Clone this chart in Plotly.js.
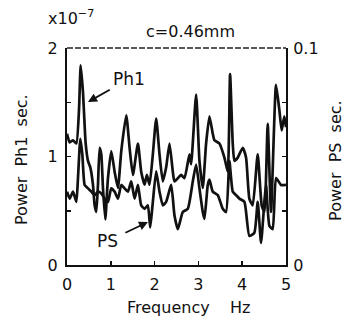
<!DOCTYPE html>
<html><head><meta charset="utf-8">
<script src="https://cdn.plot.ly/plotly-3.0.1.min.js"></script>
<style>html,body{margin:0;padding:0;background:#fff;}#chart{width:348px;height:323px;}</style>
</head><body><div id="chart"></div>
<script>
const ph1Freq = [0.000,0.061,0.137,0.213,0.274,0.312,0.365,0.426,0.479,0.532,0.593,0.631,0.669,0.707,0.745,0.783,0.821,0.874,0.935,1.011,1.087,1.163,1.239,1.353,1.429,1.505,1.619,1.694,1.771,1.824,1.884,1.960,2.036,2.112,2.188,2.264,2.340,2.416,2.454,2.606,2.682,2.796,2.834,2.948,3.024,3.100,3.176,3.252,3.328,3.366,3.480,3.594,3.670,3.723,3.784,3.822,3.898,4.012,4.088,4.164,4.240,4.354,4.445,4.506,4.582,4.658,4.772,4.848,4.901,4.962,5.000];
const ph1Power = [1.21,1.13,1.15,1.12,1.43,1.84,1.59,1.12,0.96,0.90,0.74,0.55,0.49,0.74,1.08,1.02,0.71,0.42,0.80,1.05,0.86,0.71,1.05,1.38,1.08,0.83,1.12,0.86,0.74,0.83,0.74,1.02,1.35,1.02,0.77,0.90,1.12,0.86,0.77,0.83,0.80,1.02,0.93,1.57,0.96,0.71,1.12,1.37,1.21,1.15,1.12,0.99,0.86,1.76,1.12,0.96,0.99,1.08,0.99,0.61,0.55,1.02,0.55,0.49,1.30,0.49,1.66,1.43,1.24,1.37,1.27];
const psFreq = [0.000,0.061,0.137,0.213,0.251,0.304,0.350,0.403,0.479,0.555,0.631,0.707,0.783,0.859,0.935,1.011,1.087,1.163,1.239,1.315,1.391,1.467,1.543,1.619,1.694,1.771,1.846,1.900,1.960,2.036,2.112,2.188,2.264,2.378,2.454,2.530,2.644,2.758,2.872,2.948,3.024,3.100,3.138,3.214,3.252,3.328,3.442,3.556,3.632,3.708,3.784,3.860,3.936,4.050,4.164,4.278,4.354,4.430,4.506,4.544,4.620,4.696,4.772,4.886,5.000];
const psPower = [0.0338,0.0306,0.0338,0.0291,0.0401,0.0581,0.0510,0.0369,0.0353,0.0338,0.0322,0.0338,0.0330,0.0306,0.0291,0.0353,0.0338,0.0306,0.0369,0.0353,0.0338,0.0385,0.0306,0.0369,0.0275,0.0259,0.0275,0.0173,0.0291,0.0432,0.0338,0.0275,0.0291,0.0369,0.0228,0.0165,0.0244,0.0259,0.0385,0.0463,0.0353,0.0244,0.0212,0.0369,0.0393,0.0338,0.0322,0.0259,0.0244,0.0479,0.0338,0.0322,0.0306,0.0291,0.0134,0.0149,0.0291,0.0102,0.0291,0.0369,0.0181,0.0165,0.0401,0.0369,0.0369];
const xTickVals = [0,1,2,3,4,5];
const xTickText = ['0','1','2','3','4','5'];
const yLeftTickVals = [0,1,2];
const yLeftTickText = ['0','1','2'];
const yRightTickVals = [0,0.1];
const yRightTickText = ['0','0.1'];

const FONT = 'DejaVu Sans, Arial, sans-serif';
const sp = '\u00a0';

const traces = [
  {x: ph1Freq, y: ph1Power, type:'scatter', mode:'lines', name:'Ph1',
   line:{color:'#111', width:2.7, shape:'spline', smoothing:0.5}, yaxis:'y'},
  {x: psFreq, y: psPower, type:'scatter', mode:'lines', name:'PS',
   line:{color:'#111', width:2.7, shape:'spline', smoothing:0.5}, yaxis:'y2'}
];

const layout = {
  width:348, height:323,
  margin:{l:67, r:62, t:48, b:58, autoexpand:false},
  paper_bgcolor:'#fff', plot_bgcolor:'#fff',
  showlegend:false,
  font:{family:FONT, size:16, color:'#111'},
  xaxis:{range:[0,5], tickvals:xTickVals, ticktext:xTickText, ticks:'inside', ticklen:4, tickwidth:1.5, tickcolor:'#111',
         showline:true, linecolor:'#111', linewidth:2, showgrid:false, zeroline:false, mirror:false,
         tickfont:{family:FONT, size:16}, ticklabelstandoff:4},
  yaxis:{range:[0,2], tickvals:yLeftTickVals, ticktext:yLeftTickText, ticks:'inside', ticklen:4, tickwidth:1.5, tickcolor:'#111',
         minor:{dtick:0.5, ticks:'inside', ticklen:4, tickwidth:1.5, tickcolor:'#111', showgrid:false},
         showline:true, linecolor:'#111', linewidth:2, showgrid:false, zeroline:false,
         tickfont:{family:FONT, size:16}, ticklabelstandoff:4},
  yaxis2:{range:[0,0.1], tickvals:yRightTickVals, ticktext:yRightTickText, overlaying:'y', side:'right', ticks:'inside', ticklen:4, tickwidth:1.5, tickcolor:'#111',
          minor:{dtick:0.025, ticks:'inside', ticklen:4, tickwidth:1.5, tickcolor:'#111', showgrid:false},
          showline:true, linecolor:'#111', linewidth:2, showgrid:false, zeroline:false,
          tickfont:{family:FONT, size:16}, ticklabelstandoff:2},
  shapes:[
    {type:'line', xref:'paper', yref:'paper', x0:0, x1:1, y0:1, y1:1, line:{color:'#222', width:1.5, dash:'6px,2px'}}
  ],
  annotations:[
    {xref:'paper', yref:'paper', x:0.566, y:1.074, text:'c=0.46mm', showarrow:false, font:{family:FONT, size:16}, xanchor:'center', yanchor:'middle'},
    {xref:'paper', yref:'paper', x:-0.095, y:1.14, text:'x10<sup>−7</sup>', showarrow:false, font:{family:FONT, size:16}, xanchor:'left', yanchor:'middle'},
    {xref:'paper', yref:'paper', x:0.555, y:-0.198, text:'Frequency'+sp+sp+sp+sp+'Hz', showarrow:false, font:{family:FONT, size:16}, xanchor:'center', yanchor:'middle'},
    {xref:'paper', yref:'paper', x:-0.205, y:0.484, text:'Power'+sp+sp+'Ph1'+sp+sp+'sec.', textangle:-90, showarrow:false, font:{family:FONT, size:16}, xanchor:'center', yanchor:'middle'},
    {xref:'paper', yref:'paper', x:1.228, y:0.484, text:'Power'+sp+sp+'PS'+sp+sp+'sec.', textangle:-90, showarrow:false, font:{family:FONT, size:16}, xanchor:'center', yanchor:'middle'},
    {xref:'x', yref:'y', x:0.479, y:1.502, text:'Ph1', showarrow:true, ax:41, ay:-23, startstandoff:2, arrowhead:2, arrowsize:1, arrowwidth:1.8, arrowcolor:'#111', font:{family:FONT, size:17}},
    {xref:'x', yref:'y', x:1.849, y:0.396, text:'PS', showarrow:true, ax:-40, ay:19, startstandoff:6, arrowhead:2, arrowsize:1, arrowwidth:1.8, arrowcolor:'#111', font:{family:FONT, size:17}}
  ]
};
Plotly.newPlot('chart', traces, layout, {staticPlot:true, displayModeBar:false});
</script></body></html>
